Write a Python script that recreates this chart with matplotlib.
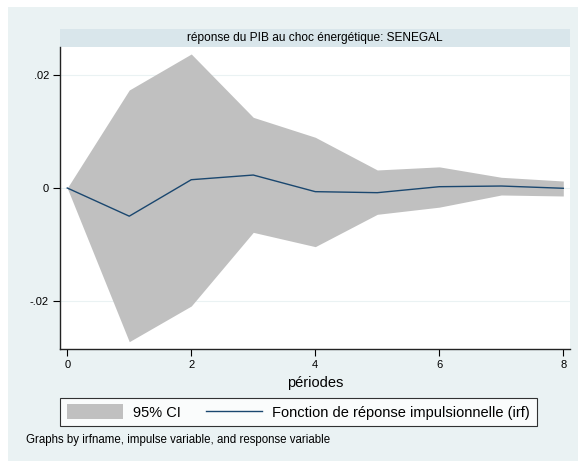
import matplotlib.pyplot as plt
from matplotlib.patches import Rectangle

plt.rcParams['font.family'] = ['Liberation Sans', 'DejaVu Sans']

# values
periods = [0, 1, 2, 3, 4, 5, 6, 7, 8]
irf = [0.0, -0.0050, 0.00147, 0.0023, -0.00065, -0.00083, 0.00023, 0.00035, -0.00005]
ci_upper = [0.0, 0.01739, 0.02378, 0.01254, 0.0090, 0.0032, 0.00375, 0.0019, 0.00124]
ci_lower = [0.0, -0.02727, -0.02094, -0.00787, -0.01041, -0.00467, -0.0034, -0.00124, -0.00142]

xticks = [0, 2, 4, 6, 8]
yticks = [0.02, 0.0, -0.02]
ytick_labels = [".02", "0", "-.02"]

title = "réponse du PIB au choc énergétique: SENEGAL"
xlabel = "périodes"
note = "Graphs by irfname, impulse variable, and response variable"

bg = "#EAF2F3"
strip = "#D9E6EB"
navy = "#1A476F"
gray = "#C0C0C0"

W, H = 587, 463
fig = plt.figure(figsize=(W / 100, H / 100), dpi=100, facecolor="white")

# outer graph region
fig.patches.append(Rectangle((8 / W, 1 - 461 / H), (578 - 8) / W, (461 - 7) / H,
                             transform=fig.transFigure, facecolor=bg, edgecolor="none", zorder=-2))
# title strip
fig.patches.append(Rectangle((60 / W, 1 - 47 / H), (570 - 60) / W, (47 - 29) / H,
                             transform=fig.transFigure, facecolor=strip, edgecolor="none", zorder=-1))
fig.text((60 + 570) / 2 / W, 1 - 38.5 / H, title, ha="center", va="center", fontsize=8.6)

ax = fig.add_axes([60 / W, 1 - 349 / H, (570 - 60) / W, (349 - 47) / H])
ax.set_zorder(1)
ax.set_facecolor("white")

ax.fill_between(periods, ci_lower, ci_upper, color=gray, linewidth=0, label="95% CI", zorder=2)
ax.plot(periods, irf, color=navy, linewidth=1.0, label="Fonction de réponse impulsionnelle (irf)", zorder=3)

ax.set_xlim(-0.117, 8.108)
ax.set_ylim(-0.02857, 0.02502)

ax.set_xticks(xticks)
ax.set_xticklabels([str(t) for t in xticks])
ax.set_yticks(yticks)
ax.set_yticklabels(ytick_labels)
ax.tick_params(direction="out", length=5, width=0.8, labelsize=8, pad=3)
ax.yaxis.grid(True, color=bg, linewidth=0.8, zorder=1)
ax.set_axisbelow(True)

for side in ["top", "right"]:
    ax.spines[side].set_visible(False)
for side in ["left", "bottom"]:
    ax.spines[side].set_linewidth(1.0)
    ax.spines[side].set_color("#222222")

fig.text(315 / W, 1 - 383 / H, xlabel, ha="center", va="center", fontsize=10.5)

leg = fig.legend(loc="center", bbox_to_anchor=((60 + 537) / 2 / W, 1 - 412 / H),
                 ncol=2, fontsize=10.5, frameon=True, fancybox=False,
                 handlelength=3.85, handleheight=1.2, handletextpad=0.7,
                 columnspacing=1.7, borderpad=0.45)
leg.get_frame().set_edgecolor("black")
leg.get_frame().set_linewidth(0.8)

fig.text(26 / W, 1 - 440 / H, note, ha="left", va="center", fontsize=8.3)

fig.savefig("out.png", dpi=100, facecolor="white")
